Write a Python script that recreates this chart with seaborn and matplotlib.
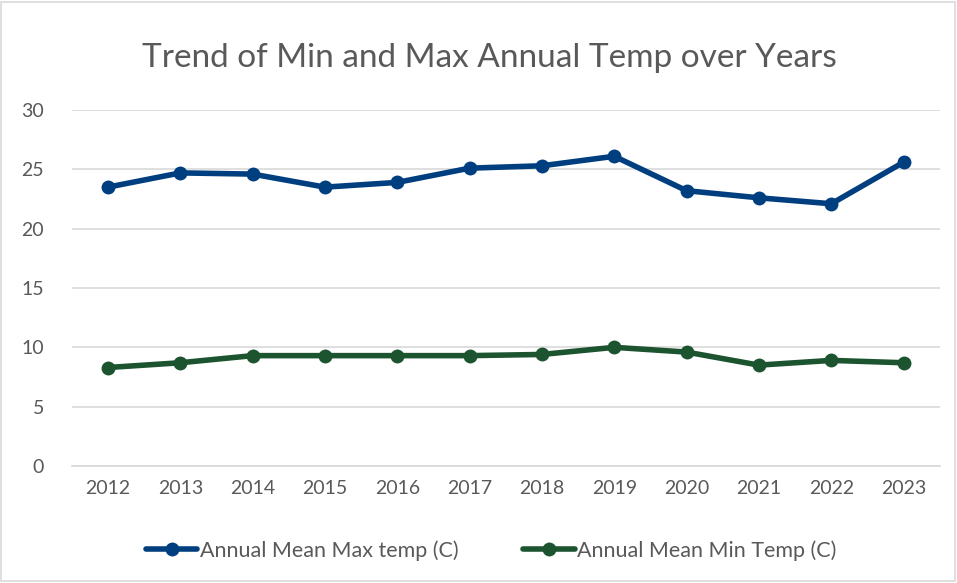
import matplotlib
matplotlib.use("Agg")
import matplotlib.pyplot as plt
import seaborn as sns
import pandas as pd
from matplotlib.patches import Rectangle
from matplotlib.lines import Line2D

years = ["2012", "2013", "2014", "2015", "2016", "2017", "2018", "2019", "2020", "2021", "2022", "2023"]
max_temp = [23.5, 24.7, 24.6, 23.5, 23.9, 25.1, 25.3, 26.1, 23.2, 22.6, 22.1, 25.6]
min_temp = [8.3, 8.7, 9.3, 9.3, 9.3, 9.3, 9.4, 10.0, 9.6, 8.5, 8.9, 8.7]
series_names = ["Annual Mean Max temp (C)", "Annual Mean Min Temp (C)"]
colors = ["#003F7F", "#1D5430"]
title = "Trend of Min and Max Annual Temp over Years"

sns.set_style("white")
plt.rcParams['font.family'] = ['Lato', 'DejaVu Sans']

df = pd.DataFrame({
    "pos": list(range(len(years))) * 2,
    "value": max_temp + min_temp,
    "series": [series_names[0]] * len(years) + [series_names[1]] * len(years),
})

fig = plt.figure(figsize=(9.57, 5.83), dpi=100)
ax = fig.add_axes([0.075, 0.2007, 0.907, 0.6106])

sns.lineplot(data=df, x="pos", y="value", hue="series", palette=colors,
             marker="o", markersize=10, markeredgewidth=0, linewidth=4,
             ax=ax, legend=False, zorder=3)

ax.set_xlim(-0.5, len(years) - 0.5)
ax.set_ylim(0, 30)
ax.set_yticks(range(0, 31, 5))
ax.set_xticks(range(len(years)))
ax.set_xticklabels(years)
ax.set_xlabel("")
ax.set_ylabel("")
ax.grid(axis="y", color="#D9D9D9", linewidth=1.2)
ax.grid(axis="x", visible=False)
for s in ["top", "right", "left"]:
    ax.spines[s].set_visible(False)
ax.spines["bottom"].set_color("#D9D9D9")
ax.spines["bottom"].set_linewidth(1.2)
ax.tick_params(axis="both", colors="#595959", labelsize=14, length=0, pad=10)
ax.tick_params(axis="y", pad=20)

fig.text(0.511, 0.9, title, ha="center", va="center", fontsize=24, color="#595959")

handles = [Line2D([0], [0], color=c, linewidth=4, marker="o", markersize=10, markeredgewidth=0) for c in colors]
fig.legend(handles, series_names, loc="center", bbox_to_anchor=(0.513, 0.056), ncol=2,
           frameon=False, fontsize=15.5, labelcolor="#595959", handlelength=2.4,
           handletextpad=0.1, columnspacing=3.0)

fig.patches.append(Rectangle((0.001, 0.004), 0.997, 0.993, transform=fig.transFigure,
                             fill=False, edgecolor="#D9D9D9", linewidth=1.2))

fig.savefig("out.png", dpi=100)
